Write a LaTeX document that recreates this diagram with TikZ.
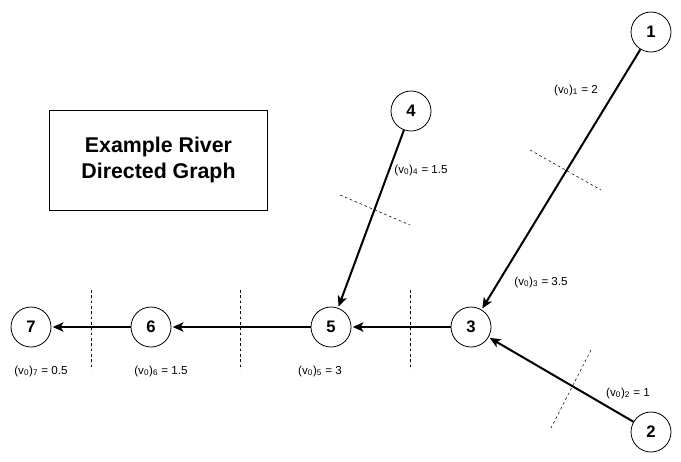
\documentclass[tikz,border=0pt]{standalone}
\usepackage{fontspec}
\setmainfont{Liberation Sans}
\usetikzlibrary{arrows.meta}
\tikzset{
  vert/.style={draw,circle,semithick,minimum size=30pt,inner sep=0pt,font=\bfseries\fontsize{12.5}{14}\selectfont},
  flow/.style={line width=1.5pt,-{Stealth[length=8pt,width=7pt,inset=2pt]},shorten >=1pt},
  cut/.style={dashed,thin,dash pattern=on 2pt off 2pt},
  vlabel/.style={font=\fontsize{8.7}{10}\selectfont}
}
\newcommand{\vz}[2]{(v\textsubscript{0})\textsubscript{#1} = #2}
\begin{document}
\begin{tikzpicture}[x=0.75pt,y=-0.75pt]
\useasboundingbox (0,0) rectangle (681,461);
% vertices
\node[vert] (n1) at (651,32) {1};
\node[vert] (n2) at (651,432) {2};
\node[vert] (n3) at (471,327) {3};
\node[vert] (n4) at (411,111) {4};
\node[vert] (n5) at (331,327) {5};
\node[vert] (n6) at (151,327) {6};
\node[vert] (n7) at (31,327) {7};
% title
\node[draw,semithick,minimum width=163pt,minimum height=75pt,align=center,font=\bfseries\fontsize{16}{19}\selectfont] (title) at (158.5,160) {Example River\\Directed Graph};
% edges
\draw[flow] (n1) -- (n3);
\draw[flow] (n2) -- (n3);
\draw[flow] (n4) -- (n5);
\draw[flow] (n3) -- (n5);
\draw[flow] (n5) -- (n6);
\draw[flow] (n6) -- (n7);
% cuts
\draw[cut] (530,150) -- (601,190);
\draw[cut] (340,195) -- (410,225);
\draw[cut] (591,350) -- (551,428);
\draw[cut] (410,290) -- (410,370);
\draw[cut] (240,290) -- (240,370);
\draw[cut] (91,290) -- (91,370);
% initial values
\node[vlabel] (l1) at (576,90) {\vz{1}{2}};
\node[vlabel] (l4) at (421,170) {\vz{4}{1.5}};
\node[vlabel] (l3) at (541,282) {\vz{3}{3.5}};
\node[vlabel] (l2) at (628,393) {\vz{2}{1}};
\node[vlabel] (l7) at (41,371) {\vz{7}{0.5}};
\node[vlabel] (l6) at (161,371) {\vz{6}{1.5}};
\node[vlabel] (l5) at (320,371) {\vz{5}{3}};
\end{tikzpicture}
\end{document}
